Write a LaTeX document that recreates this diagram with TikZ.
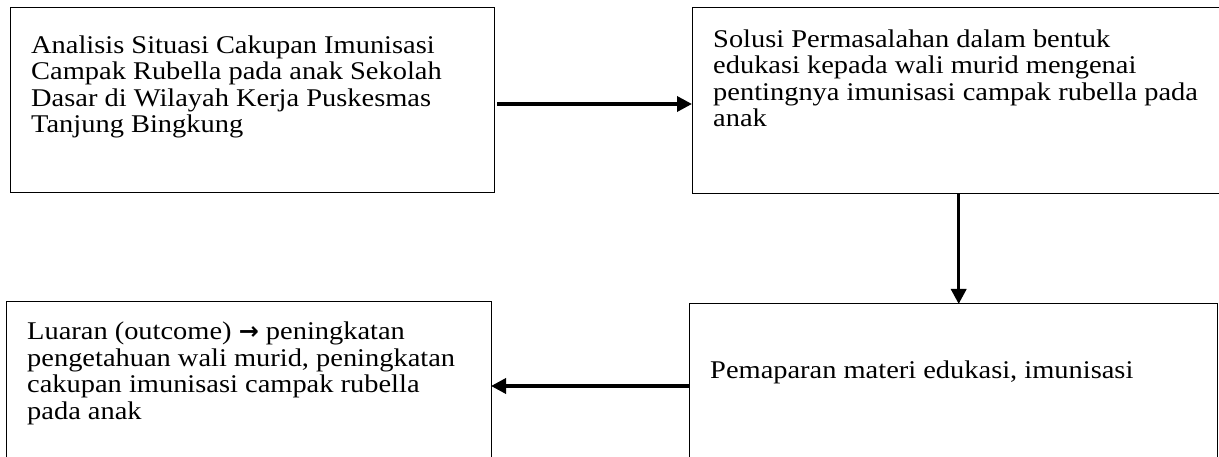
\documentclass[tikz,border=0pt]{standalone}
\usepackage{fontspec}
\setmainfont{Liberation Serif}[FakeStretch=1.115]
\newfontfamily\symf{DejaVu Sans}
\usetikzlibrary{arrows.meta}
\newcommand\fsz{\fontsize{25.5}{26.5}\selectfont}
\tikzset{
  box/.style={draw=black, line width=1pt, rectangle, inner sep=0pt, outer sep=0pt},
  txt/.style={anchor=base west, inner sep=0pt, font=\fsz},
  arr/.style={line width=3.5pt, -{Triangle[length=15pt,width=15pt]}}
}
\begin{document}
\begin{tikzpicture}[x=1pt,y=-1pt]
\useasboundingbox (0,0) rectangle (1219,457);
\fill[white] (0,0) rectangle (1219,457);
% boxes
\node[box, minimum width=484pt, minimum height=185pt] (A) at (252,100.5) {};
\node[box, minimum width=530pt, minimum height=186pt] (B) at (957,101) {};
\node[box, minimum width=528pt, minimum height=166pt] (C) at (953,387) {};
\node[box, minimum width=485pt, minimum height=168pt] (D) at (248.5,386) {};
% texts
\node[txt] (a1) at (31,53.5) {Analisis Situasi Cakupan Imunisasi};
\node[txt] (a2) at (31,80) {Campak Rubella pada anak Sekolah};
\node[txt] (a3) at (31,106.5) {Dasar di Wilayah Kerja Puskesmas};
\node[txt] (a4) at (31,133) {Tanjung Bingkung};
\node[txt] (b1) at (713,47.5) {Solusi Permasalahan dalam bentuk};
\node[txt] (b2) at (713,74) {edukasi kepada wali murid mengenai};
\node[txt] (b3) at (713,100.5) {pentingnya imunisasi campak rubella pada};
\node[txt] (b4) at (713,127) {anak};
\node[txt] (c1) at (710,378) {Pemaparan materi edukasi, imunisasi};
\node[txt] (d1) at (27,339.5) {Luaran (outcome) {\symf\bfseries\fontsize{24}{26.5}\selectfont →} peningkatan};
\node[txt] (d2) at (27,366) {pengetahuan wali murid, peningkatan};
\node[txt] (d3) at (27,392.5) {cakupan imunisasi campak rubella};
\node[txt] (d4) at (27,419) {pada anak};
% connectors
\draw[arr] ([xshift=3pt,yshift=-3.5pt]A.east) coordinate (s1) -- (s1 -| B.west);
\draw[arr] ([xshift=1.7pt]B.south) coordinate (s2) -- (s2 |- C.north);
\draw[arr] ([yshift=1pt]C.west) coordinate (s3) -- (s3 -| D.east);
\end{tikzpicture}
\end{document}
